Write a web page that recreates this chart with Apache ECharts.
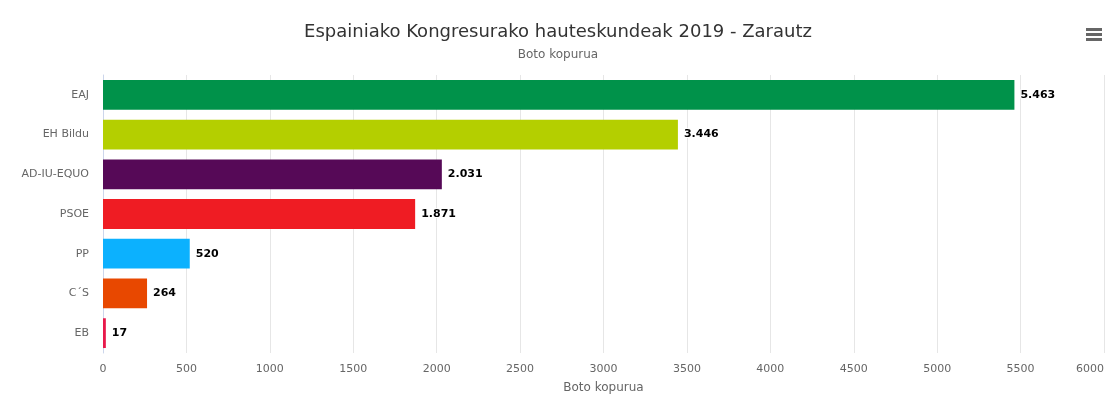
<!DOCTYPE html>
<html><head><meta charset="utf-8">
<script src="https://cdn.jsdelivr.net/npm/echarts@6/dist/echarts.min.js"></script>
<style>html,body{margin:0;padding:0;background:#fff;overflow:hidden}#c{width:100vw;height:100vh}</style>
</head><body><div id="c"></div>
<script>
const categories = ["EAJ","EH Bildu","AD-IU-EQUO","PSOE","PP","C´S","EB"];
const votes = [5463,3446,2031,1871,520,264,17];
const barColors = ["#00924a","#b4cf00","#560957","#ef1c23","#0cb1fe","#e84800","#e8194b"];
const xTicks = [0,500,1000,1500,2000,2500,3000,3500,4000,4500,5000,5500,6000];

const fmt = v => String(v).replace(/\B(?=(\d{3})+(?!\d))/g, ".");
const chart = echarts.init(document.getElementById('c'));
const F = '"Lucida Grande","DejaVu Sans","Noto Sans",sans-serif';
chart.setOption({
  animation:false,
  textStyle:{fontFamily:F},
  title:{text:"Espainiako Kongresurako hauteskundeak 2019 - Zarautz",
    subtext:"Boto kopurua", left:'center', top:18, itemGap:8,
    textStyle:{fontSize:18,fontWeight:'normal',color:'#333',fontFamily:F},
    subtextStyle:{fontSize:12,color:'#666',fontFamily:F}},
  grid:{left:103,right:12,top:75,bottom:44,containLabel:false},
  xAxis:{type:'value',min:xTicks[0],max:xTicks[xTicks.length-1],interval:500,
    name:'Boto kopurua',nameLocation:'middle',nameGap:29,
    nameTextStyle:{color:'#666',fontSize:12,fontFamily:F},
    axisLine:{show:false},axisTick:{show:false},
    axisLabel:{color:'#666',fontSize:11,margin:11,fontFamily:F,formatter:v=>String(v),
      alignMaxLabel:'right'},
    splitLine:{lineStyle:{color:'#e6e6e6',width:1}}},
  yAxis:{type:'category',data:categories,inverse:true,
    axisLine:{lineStyle:{color:'#ccd6eb'}},axisTick:{show:false},
    axisLabel:{color:'#666',fontSize:11,margin:14,fontFamily:F}},
  series:[{type:'bar',barCategoryGap:'25%',
    data:votes.map((v,i)=>({value:v,itemStyle:{color:barColors[i]}})),
    label:{show:true,position:'right',distance:6,formatter:p=>fmt(p.value),
      color:'#000',fontWeight:'bold',fontSize:11,fontFamily:F,
      textBorderColor:'#fff',textBorderWidth:2}}],
  graphic:[
    {type:'rect',left:1086,top:28,shape:{width:16,height:3},style:{fill:'#666'}},
    {type:'rect',left:1086,top:33,shape:{width:16,height:3},style:{fill:'#666'}},
    {type:'rect',left:1086,top:38,shape:{width:16,height:3},style:{fill:'#666'}}
  ]
});
</script></body></html>
